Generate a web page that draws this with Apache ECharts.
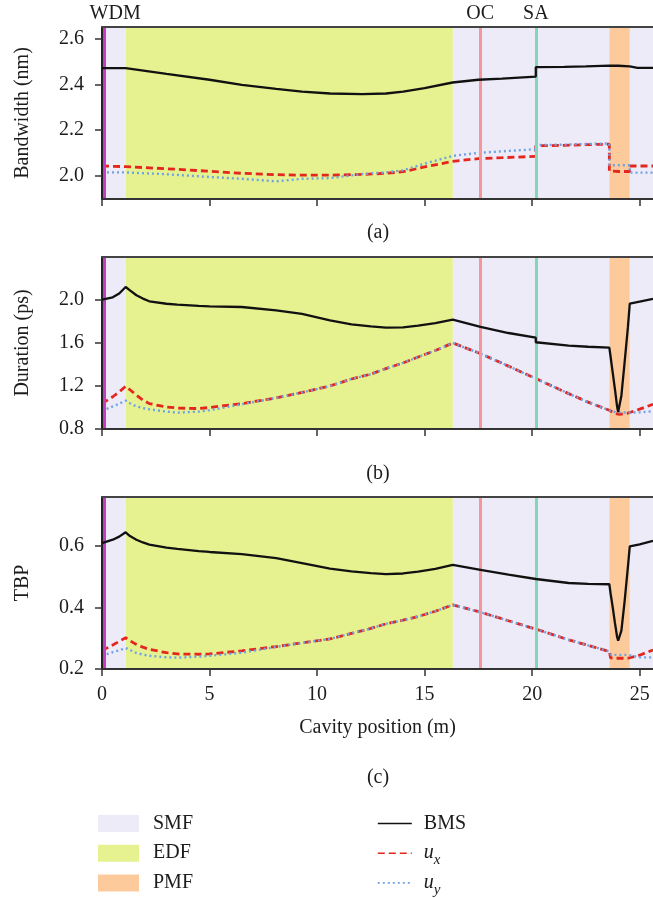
<!DOCTYPE html>
<html>
<head>
<meta charset="utf-8">
<script src="https://cdn.jsdelivr.net/npm/echarts@6/dist/echarts.min.js"></script>
<style>
  html, body { margin: 0; padding: 0; background: #ffffff; }
  #chart { width: 653px; height: 898px; }
</style>
</head>
<body>
<div id="chart"></div>
<script>
// ---- data -------------------------------------------------------------
// Cavity positions (m); a repeated position marks an abrupt step.
const posA = [0, 1.1, 3.0, 5.0, 6.5, 8.1, 9.3, 10.6, 12.1, 13.2, 14.0, 15.0, 16.3, 17.5, 18.6,
  20.17, 20.17, 21.5, 22.5, 23.59, 23.59, 24.0, 24.54, 24.54, 24.9, 25.62];

// Bandwidth (nm)
const bwBMS = [2.471, 2.471, 2.446, 2.420, 2.398, 2.380, 2.368, 2.360, 2.357, 2.360, 2.368, 2.383, 2.408, 2.420, 2.425,
  2.434, 2.475, 2.476, 2.478, 2.482, 2.482, 2.481, 2.478, 2.478, 2.472, 2.472];
const bwUx = [2.044, 2.041, 2.032, 2.021, 2.012, 2.006, 2.004, 2.004, 2.007, 2.012, 2.019, 2.040, 2.064, 2.076, 2.080,
  2.086, 2.132, 2.134, 2.137, 2.139, 2.022, 2.020, 2.020, 2.044, 2.044, 2.044];
const bwUy = [2.016, 2.016, 2.008, 1.996, 1.988, 1.977, 1.988, 1.991, 2.009, 2.016, 2.025, 2.054, 2.088, 2.101, 2.108,
  2.117, 2.135, 2.137, 2.140, 2.142, 2.047, 2.047, 2.047, 2.015, 2.015, 2.015];

const posBC = [0, 0.5, 0.8, 1.1, 1.3, 1.6, 1.9, 2.2, 3.0, 3.5, 4.5, 5.0, 6.5, 8.1, 9.3, 10.6, 11.6, 12.5, 13.2, 14.0,
  14.7, 15.5, 16.31, 17.6, 18.9, 20.17, 20.17, 21.7, 22.6, 23.59, 23.65, 23.75, 23.85, 23.95, 24.0, 24.05, 24.15,
  24.3, 24.45, 24.54, 25.0, 25.62];

// Duration (ps)
const durBMS = [2.004, 2.025, 2.060, 2.121, 2.090, 2.044, 2.013, 1.988, 1.965, 1.957, 1.945, 1.941, 1.935, 1.904, 1.870,
  1.811, 1.774, 1.755, 1.743, 1.745, 1.762, 1.785, 1.818, 1.749, 1.693, 1.650, 1.607, 1.576, 1.565, 1.557, 1.470,
  1.320, 1.170, 1.010, 0.958, 0.970, 1.110, 1.420, 1.740, 1.966, 1.985, 2.010];
const durUx = [1.036, 1.100, 1.145, 1.197, 1.165, 1.115, 1.070, 1.036, 1.005, 0.995, 0.990, 1.000, 1.036, 1.089, 1.140,
  1.200, 1.265, 1.310, 1.362, 1.415, 1.470, 1.530, 1.600, 1.501, 1.385, 1.269, 1.269, 1.129, 1.050, 0.974, 0.965,
  0.955, 0.946, 0.940, 0.938, 0.937, 0.938, 0.942, 0.947, 0.950, 0.985, 1.030];
const durUy = [0.968, 1.010, 1.035, 1.064, 1.040, 1.010, 0.995, 0.983, 0.962, 0.952, 0.962, 0.975, 1.030, 1.089, 1.140,
  1.200, 1.265, 1.310, 1.362, 1.415, 1.470, 1.530, 1.600, 1.501, 1.385, 1.269, 1.269, 1.129, 1.050, 0.974, 0.968,
  0.962, 0.958, 0.956, 0.955, 0.955, 0.955, 0.954, 0.953, 0.952, 0.955, 0.965];

// Time-bandwidth product
const tbpBMS = [0.610, 0.621, 0.631, 0.645, 0.633, 0.621, 0.612, 0.605, 0.595, 0.591, 0.584, 0.581, 0.574, 0.561, 0.545,
  0.527, 0.518, 0.512, 0.509, 0.511, 0.517, 0.526, 0.539, 0.523, 0.507, 0.493, 0.493, 0.480, 0.477, 0.476, 0.445,
  0.400, 0.350, 0.305, 0.292, 0.295, 0.325, 0.420, 0.530, 0.599, 0.606, 0.617];
const tbpUx = [0.260, 0.278, 0.290, 0.302, 0.292, 0.280, 0.271, 0.264, 0.253, 0.249, 0.248, 0.249, 0.259, 0.273, 0.285,
  0.298, 0.316, 0.332, 0.347, 0.359, 0.371, 0.388, 0.409, 0.385, 0.357, 0.330, 0.330, 0.295, 0.277, 0.257, 0.236,
  0.235, 0.235, 0.235, 0.235, 0.235, 0.235, 0.235, 0.235, 0.235, 0.245, 0.262];
const tbpUy = [0.243, 0.255, 0.261, 0.268, 0.262, 0.252, 0.247, 0.243, 0.238, 0.237, 0.240, 0.243, 0.253, 0.272, 0.285,
  0.298, 0.316, 0.332, 0.347, 0.359, 0.371, 0.388, 0.409, 0.385, 0.357, 0.330, 0.330, 0.295, 0.277, 0.257, 0.247,
  0.246, 0.246, 0.246, 0.246, 0.246, 0.246, 0.246, 0.246, 0.246, 0.238, 0.238];

// Fibre sections along the cavity (m)
const smfSpans = [[0, 1.11], [16.31, 23.59], [24.54, 25.62]];
const edfSpans = [[1.11, 16.31]];
const pmfSpans = [[23.59, 24.54]];

// Discrete components (position in m)
const componentNames = ['WDM', 'OC', 'SA'];
const componentPos = [0.1, 17.58, 20.17];

// Axis ticks
const xMax = 25.62;
const xTicks = [0, 5, 10, 15, 20, 25];
const yTicksA = [2.0, 2.2, 2.4, 2.6];
const yTicksB = [0.8, 1.2, 1.6, 2.0];
const yTicksC = [0.2, 0.4, 0.6];

// ---- styling ----------------------------------------------------------
const FONT = '"Liberation Serif", "DejaVu Serif", serif';
const FS = 20;
const INK = '#1c1c1c';
const AXIS = '#333333';
const COLOR = {
  SMF: '#EDEBF7', EDF: '#E5F28F', PMF: '#FDCB9B',
  WDM: '#C03FC3', OC: '#F5969A', SA: '#7FD9B6',
  BMS: '#111111', ux: '#E4261F', uy: '#6FA3E3'
};

const panels = [
  { top: 27,  pos: posA,  bms: bwBMS,  ux: bwUx,  uy: bwUy,  min: 1.9, max: 2.65, ticks: yTicksA, name: 'Bandwidth (nm)', tag: '(a)', tagY: 233 },
  { top: 257, pos: posBC, bms: durBMS, ux: durUx, uy: durUy, min: 0.8, max: 2.4,  ticks: yTicksB, name: 'Duration (ps)',  tag: '(b)', tagY: 474 },
  { top: 497, pos: posBC, bms: tbpBMS, ux: tbpUx, uy: tbpUy, min: 0.2, max: 0.76, ticks: yTicksC, name: 'TBP',            tag: '(c)', tagY: 778 }
];
const GRID_LEFT = 102, GRID_H = 172;

const zip = (xs, ys) => xs.map((x, i) => [x, ys[i]]);
const spanData = spans => spans.map(s => [{ xAxis: s[0] }, { xAxis: s[1] }]);

const grid = panels.map(p => ({ left: GRID_LEFT, right: -2, top: p.top, height: GRID_H }));

const xAxis = [];
panels.forEach((p, i) => {
  const last = i === panels.length - 1;
  xAxis.push({
    type: 'value', gridIndex: i, min: 0, max: xMax, position: 'bottom', z: 5,
    axisLine: { show: true, onZero: false, lineStyle: { color: AXIS, width: 2 } },
    axisTick: { show: true, inside: false, length: 7, customValues: xTicks, lineStyle: { color: AXIS, width: 1.5 } },
    axisLabel: { show: last, customValues: xTicks, margin: 16, fontFamily: FONT, fontSize: FS, color: INK },
    splitLine: { show: false },
    name: last ? 'Cavity position (m)' : '',
    nameLocation: 'middle', nameGap: 49,
    nameTextStyle: { fontFamily: FONT, fontSize: FS, color: INK }
  });
});
panels.forEach((p, i) => {
  xAxis.push({
    type: 'value', gridIndex: i, min: 0, max: xMax, position: 'top', z: 5,
    axisLine: { show: true, onZero: false, lineStyle: { color: '#444', width: 2 } },
    axisTick: { show: false }, axisLabel: { show: false }, splitLine: { show: false }
  });
});

const yAxis = panels.map((p, i) => ({
  type: 'value', gridIndex: i, min: p.min, max: p.max, z: 5,
  axisLine: { show: true, onZero: false, lineStyle: { color: '#222', width: 2 } },
  axisTick: { show: true, inside: false, length: 7, customValues: p.ticks, lineStyle: { color: AXIS, width: 1.5 } },
  axisLabel: { customValues: p.ticks, formatter: v => v.toFixed(1), margin: 18, fontFamily: FONT, fontSize: FS, color: INK },
  splitLine: { show: false },
  name: p.name, nameLocation: 'middle', nameGap: 69, nameRotate: 90,
  nameTextStyle: { fontFamily: FONT, fontSize: FS, color: INK }
}));

const series = [];
panels.forEach((p, i) => {
  // fibre sections as shaded bands
  [['SMF', smfSpans], ['EDF', edfSpans], ['PMF', pmfSpans]].forEach(([name, spans]) => {
    series.push({
      name, type: 'line', xAxisIndex: i, yAxisIndex: i, data: [], z: 1, silent: true,
      itemStyle: { color: COLOR[name] }, lineStyle: { color: COLOR[name] },
      markArea: { silent: true, itemStyle: { color: COLOR[name], opacity: 1 }, data: spanData(spans) }
    });
  });
  // component positions as vertical lines
  series.push({
    name: 'components', type: 'line', xAxisIndex: i, yAxisIndex: i, data: [], z: 2, silent: true,
    markLine: {
      silent: true, symbol: ['none', 'none'], animation: false,
      data: componentNames.map((n, k) => ({
        xAxis: componentPos[k],
        lineStyle: { color: COLOR[n], width: 3, type: 'solid', opacity: 1 },
        label: {
          show: i === 0, position: 'end', formatter: n, distance: 3,
          offset: n === 'WDM' ? [11, 0] : [0, 0],
          fontFamily: FONT, fontSize: FS, color: INK
        }
      }))
    }
  });
  series.push({
    name: 'ux', type: 'line', xAxisIndex: i, yAxisIndex: i, data: zip(p.pos, p.ux), z: 3,
    symbol: 'none', animation: false, itemStyle: { color: COLOR.ux },
    lineStyle: { color: COLOR.ux, width: 2.8, type: [7, 4] }
  });
  series.push({
    name: 'uy', type: 'line', xAxisIndex: i, yAxisIndex: i, data: zip(p.pos, p.uy), z: 4,
    symbol: 'none', animation: false, itemStyle: { color: COLOR.uy },
    lineStyle: { color: COLOR.uy, width: 2.4, type: [2, 3] }
  });
  series.push({
    name: 'BMS', type: 'line', xAxisIndex: i, yAxisIndex: i, data: zip(p.pos, p.bms), z: 5,
    symbol: 'none', animation: false, itemStyle: { color: COLOR.BMS },
    lineStyle: { color: COLOR.BMS, width: 2.3 }
  });
});

const legendText = {
  fontFamily: FONT, fontSize: FS, color: INK, lineHeight: 29,
  rich: {
    i: { fontFamily: FONT, fontSize: FS, fontStyle: 'italic', color: INK, lineHeight: 20, verticalAlign: 'middle' },
    s: { fontFamily: FONT, fontSize: 15, fontStyle: 'italic', color: INK, lineHeight: 15, padding: [14, 0, 0, 0], verticalAlign: 'middle' }
  }
};

const legend = [
  {
    orient: 'vertical', left: 98, top: 809, padding: 0, itemGap: 0.7,
    itemWidth: 41, itemHeight: 17, selectedMode: false,
    textStyle: Object.assign({}, legendText, { padding: [0, 0, 0, 9] }),
    data: ['SMF', 'EDF', 'PMF'].map(n => ({ name: n, icon: 'rect', itemStyle: { color: COLOR[n] } }))
  },
  {
    orient: 'vertical', left: 377, top: 809, padding: 0, itemGap: 0.7,
    itemWidth: 34, itemHeight: 17, selectedMode: false,
    textStyle: Object.assign({}, legendText, { padding: [0, 0, 0, 7] }),
    formatter: n => n === 'ux' ? '{i|u}{s|x}' : n === 'uy' ? '{i|u}{s|y}' : n,
    data: ['BMS', 'ux', 'uy'].map(n => ({ name: n, itemStyle: { opacity: 0 }, lineStyle: { width: 1.6 } }))
  }
];

const graphic = panels.map(p => ({
  type: 'text', x: 378, y: p.tagY,
  style: { text: p.tag, fontFamily: FONT, fontSize: FS, fill: INK, textAlign: 'center', textVerticalAlign: 'middle' }
}));

const chart = echarts.init(document.getElementById('chart'), null, { renderer: 'canvas' });
chart.setOption({
  animation: false,
  backgroundColor: '#ffffff',
  grid, xAxis, yAxis, series, legend, graphic
});
</script>
</body>
</html>
